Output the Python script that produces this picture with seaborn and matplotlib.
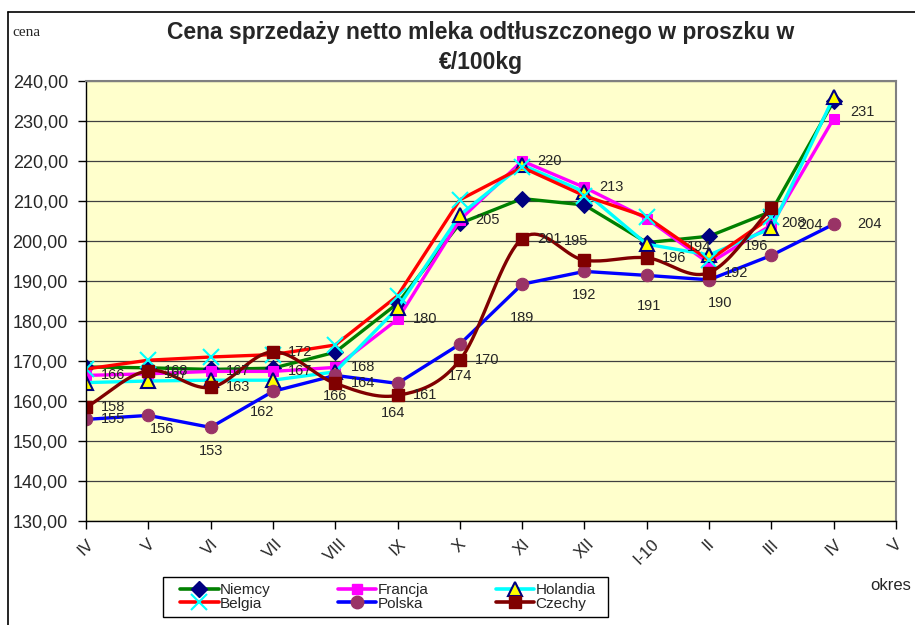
import numpy as np
import pandas as pd
import seaborn as sns
import matplotlib.pyplot as plt
from matplotlib.lines import Line2D
from matplotlib.patches import Rectangle

months = ["IV", "V", "VI", "VII", "VIII", "IX", "X", "XI", "XII", "I-10", "II", "III", "IV", "V"]
niemcy = [168.5, 168.3, 167.9, 168.2, 172.2, 184.4, 204.4, 210.6, 209.0, 199.6, 201.2, 207.4, 235.0]
francja = [166.4, 166.8, 167.4, 167.4, 168.4, 180.4, 205.3, 220.0, 213.4, 205.6, 194.4, 204.0, 230.6]
holandia = [164.6, 165.0, 165.2, 165.2, 167.3, 183.2, 206.5, 219.0, 212.3, 199.2, 196.5, 203.2, 236.0]
belgia = [168.0, 170.2, 171.0, 171.6, 174.0, 186.3, 210.3, 218.4, 211.3, 206.0, 195.2, 206.0, np.nan]
polska = [155.4, 156.4, 153.4, 162.4, 166.4, 164.4, 174.2, 189.2, 192.4, 191.4, 190.3, 196.4, 204.2]
czechy = [158.4, 167.6, 163.4, 172.3, 164.4, 161.4, 170.2, 200.6, 195.2, 195.8, 192.1, 208.2, np.nan]

sns.set_style("white")
plt.rcParams['font.family'] = ['Liberation Sans', 'DejaVu Sans']

fig = plt.figure(figsize=(9.15, 6.25), dpi=100)
ax = fig.add_axes([86 / 915, 1 - 521 / 625, 810 / 915, 440 / 625])
ax.set_facecolor("#FFFFCC")

x = np.arange(len(niemcy))


def smooth(xs, ys, n=20):
    # Excel-like smoothed line (Catmull-Rom through the points)
    xs = np.asarray(xs, float)
    ys = np.asarray(ys, float)
    ok = ~np.isnan(ys)
    xs, ys = xs[ok], ys[ok]
    px = np.concatenate([[2 * xs[0] - xs[1]], xs, [2 * xs[-1] - xs[-2]]])
    py = np.concatenate([[2 * ys[0] - ys[1]], ys, [2 * ys[-1] - ys[-2]]])
    ox, oy = [], []
    t = np.linspace(0, 1, n, endpoint=False)
    for i in range(1, len(px) - 2):
        for arr, out in ((px, ox), (py, oy)):
            p0, p1, p2, p3 = arr[i - 1], arr[i], arr[i + 1], arr[i + 2]
            out.extend(0.5 * ((2 * p1) + (-p0 + p2) * t
                              + (2 * p0 - 5 * p1 + 4 * p2 - p3) * t ** 2
                              + (-p0 + 3 * p1 - 3 * p2 + p3) * t ** 3))
    ox.append(xs[-1])
    oy.append(ys[-1])
    return np.array(ox), np.array(oy)


styles = {
    "Niemcy": dict(color="#008000", marker="D", markerfacecolor="#000080", markeredgecolor="#000080", markersize=8),
    "Francja": dict(color="#FF00FF", marker="s", markerfacecolor="#FF00FF", markeredgecolor="#FF00FF", markersize=7),
    "Holandia": dict(color="#00FFFF", marker="^", markerfacecolor="#FFFF00", markeredgecolor="#000080",
                     markersize=10, markeredgewidth=1.5),
    "Belgia": dict(color="#FF0000", marker="x", markeredgecolor="#00FFFF", markersize=12, markeredgewidth=1.5),
    "Polska": dict(color="#0000FF", marker="o", markerfacecolor="#993366", markeredgecolor="#993366", markersize=9),
    "Czechy": dict(color="#800000", marker="s", markerfacecolor="#800000", markeredgecolor="#800000", markersize=8),
}
series = {"Niemcy": niemcy, "Francja": francja, "Holandia": holandia,
          "Belgia": belgia, "Polska": polska, "Czechy": czechy}

for name, vals in series.items():
    st = styles[name]
    if name == "Czechy":
        sx, sy = smooth(x, vals)
        sns.lineplot(x=sx, y=sy, ax=ax, color=st["color"], linewidth=2.4, sort=False)
        df = pd.DataFrame({"x": x, "y": vals}).dropna()
        ax.plot(df["x"], df["y"], linestyle="none",
                **{k: v for k, v in st.items() if k != "color"})
    else:
        df = pd.DataFrame({"x": x, "y": vals}).dropna()
        sns.lineplot(data=df, x="x", y="y", ax=ax, linewidth=2.4, sort=False, **st)


def label(i, v, dx, dy, ha="left"):
    ax.annotate(f"{v:.0f}", (x[i], v), xytext=(dx, dy), textcoords="offset points",
                ha=ha, va="center", fontsize=10.5)


# data labels (offsets in points)
for i, v in enumerate(francja):
    if i == 9:
        continue
    if i == 10:
        label(i, v, -7, 12, "center")
    elif i == 11:
        label(i, v, 19, 0)
    elif i == 12:
        label(i, v, 12, 5)
    else:
        label(i, v, 11, 0)
for i, v in enumerate(czechy):
    if np.isnan(v):
        continue
    if i == 8:
        label(i, v, -6, 14, "center")
    elif i == 11:
        label(i, v, 7, -11)
    else:
        label(i, v, 11, 0)
pol_off = [(11, 0), (10, -10), (0, -17), (-8, -15), (0, -15), (-3, -21), (0, -23), (0, -24),
           (0, -17), (2, -22), (8, -17), (-2, 7), (17, 0)]
for i, v in enumerate(polska):
    dx, dy = pol_off[i]
    ha = "left" if i in (0, 12) else ("right" if i == 11 else "center")
    label(i, v, dx, dy, ha)

ax.set_xlim(0, 13)
ax.set_ylim(130, 240)
yt = np.arange(130, 241, 10)
ax.set_yticks(yt)
ax.set_yticklabels([f"{t},00" for t in yt], fontsize=13)
ax.set_xticks(np.arange(len(months)))
ax.set_xticklabels(months, rotation=45, ha="center", fontsize=12)
ax.tick_params(axis="both", direction="out", length=6, width=1, color="black", left=True, bottom=True)
ax.tick_params(axis="y", pad=7)
ax.tick_params(axis="x", pad=5)
ax.set_xlabel("")
ax.set_ylabel("")
ax.yaxis.grid(True, color="#404040", linewidth=0.9)
ax.set_axisbelow(True)
for s in ("left", "bottom"):
    ax.spines[s].set_color("black")
    ax.spines[s].set_linewidth(1)
for s in ("top", "right"):
    ax.spines[s].set_color("#808080")
    ax.spines[s].set_linewidth(1.5)

handles = []
for name in ["Niemcy", "Belgia", "Francja", "Polska", "Holandia", "Czechy"]:
    handles.append(Line2D([], [], linewidth=2.6, label=name, **styles[name]))
leg = fig.legend(handles=handles, ncol=3, loc="center",
                 bbox_to_anchor=(388 / 915, 1 - 597 / 625),
                 fontsize=11, frameon=False,
                 handlelength=2.5, handletextpad=0.1, labelspacing=-0.05, borderpad=0,
                 columnspacing=4.4)
fig.add_artist(Rectangle((163 / 915, 1 - 617 / 625), 445 / 915, 40 / 625, transform=fig.transFigure,
                         fill=False, edgecolor="black", linewidth=1))

fig.text(481 / 915, 1 - 32 / 625, "Cena sprzedaży netto mleka odtłuszczonego w proszku w",
         ha="center", va="center", fontsize=16.5, fontweight="bold")
fig.text(481 / 915, 1 - 62 / 625, "€/100kg", ha="center", va="center", fontsize=16.5, fontweight="bold")
fig.text(12 / 915, 1 - 32 / 625, "cena", ha="left", va="center", fontsize=11,
         family=["Liberation Serif", "DejaVu Serif"])
fig.text(870 / 915, 1 - 585 / 625, "okres", ha="left", va="center", fontsize=12)

fig.add_artist(Line2D([8 / 915, 8 / 915], [0, 1 - 12 / 625], color="black", linewidth=1.2))
fig.add_artist(Line2D([8 / 915, 1], [1 - 12 / 625, 1 - 12 / 625], color="black", linewidth=1.2))

fig.savefig("out.png", dpi=100)
